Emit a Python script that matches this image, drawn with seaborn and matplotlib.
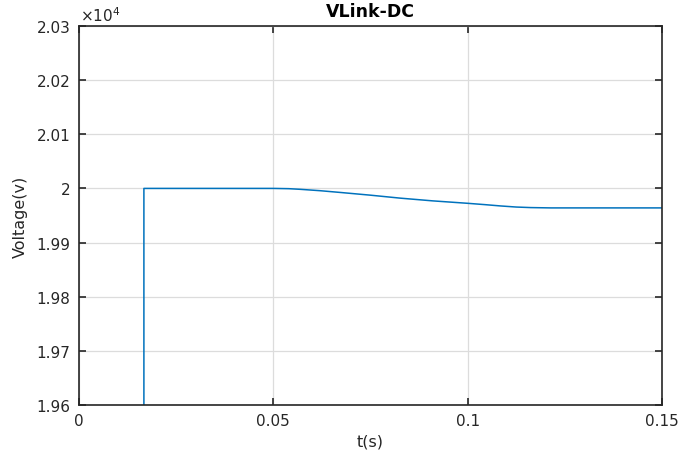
import matplotlib
matplotlib.use("Agg")
import matplotlib.pyplot as plt
from matplotlib.ticker import FuncFormatter
import seaborn as sns
import pandas as pd

# DC-link voltage trace (time in s, voltage in V)
t_s = [0.0, 0.0167, 0.0167, 0.050, 0.054, 0.057, 0.062, 0.0673, 0.075,
       0.0827, 0.091, 0.100, 0.1045, 0.1085, 0.1125, 0.1162, 0.1214, 0.150]
volt = [0.0, 0.0, 20000.0, 20000.0, 19999.5, 19998.3, 19995.8, 19992.5, 19987.5,
        19982.0, 19977.0, 19972.5, 19970.0, 19967.6, 19965.6, 19964.6, 19964.0, 19964.0]

x_ticks = [0, 0.05, 0.1, 0.15]
x_tick_labels = ["0", "0.05", "0.1", "0.15"]
y_ticks = [19600, 19700, 19800, 19900, 20000, 20100, 20200, 20300]

title = "VLink-DC"
x_label = "t(s)"
y_label = "Voltage(v)"

sns.set_theme(style="whitegrid")
plt.rcParams["font.family"] = ["DejaVu Sans"]

df = pd.DataFrame({"t": t_s, "v": volt})

fig = plt.figure(figsize=(6.78, 4.52), dpi=100)
ax = fig.add_axes([0.1165, 0.1018, 0.8599, 0.8385])

sns.lineplot(data=df, x="t", y="v", ax=ax, color="#0072BD", linewidth=1.1,
             sort=False, estimator=None)

ax.set_xlim(0, 0.15)
ax.set_ylim(19600, 20300)
ax.set_xticks(x_ticks)
ax.set_xticklabels(x_tick_labels)
ax.set_yticks(y_ticks)
ax.yaxis.set_major_formatter(FuncFormatter(lambda v, p: f"{v / 1e4:g}"))

ax.set_facecolor("white")
ax.grid(True, color="#dcdcdc", linewidth=0.9)
for side in ["left", "right", "top", "bottom"]:
    ax.spines[side].set_visible(True)
    ax.spines[side].set_color("#262626")
    ax.spines[side].set_linewidth(1.2)

ax.tick_params(axis="both", which="major", direction="in", length=5, width=1.2,
               color="#262626", labelsize=11, labelcolor="#262626",
               top=True, right=True, bottom=True, left=True, pad=6)

ax.set_title(title, fontsize=12.5, fontweight="bold", color="black", pad=7)
ax.set_xlabel(x_label, fontsize=11.5, color="#262626", labelpad=4)
ax.set_ylabel(y_label, fontsize=11.5, color="#262626", labelpad=6)

ax.text(0.002, 1.006, r"$\times\mathregular{10^{4}}$", transform=ax.transAxes,
        ha="left", va="bottom", fontsize=11, color="#262626")

fig.savefig("out.png", dpi=100, facecolor="white")
